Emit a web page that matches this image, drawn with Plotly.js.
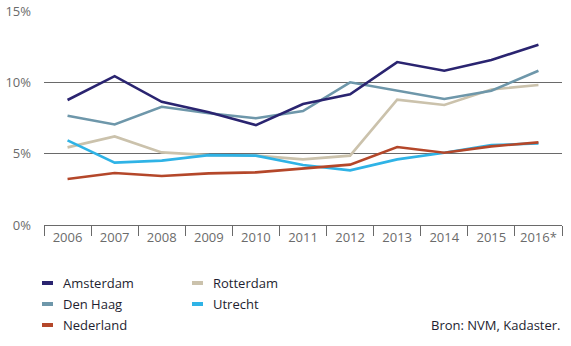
<!DOCTYPE html>
<html>
<head>
<meta charset="utf-8">
<script src="https://cdn.plot.ly/plotly-3.0.1.min.js"></script>
<style>html,body{margin:0;padding:0;background:#fff;}#chart{width:571px;height:346px;}</style>
</head>
<body>
<div id="chart"></div>
<script>
const years = ["2006","2007","2008","2009","2010","2011","2012","2013","2014","2015","2016*"];
const amsterdam = [8.76, 10.43, 8.63, 7.9, 7.0, 8.48, 9.16, 11.42, 10.81, 11.56, 12.64];
const denHaag   = [7.66, 7.05, 8.29, 7.83, 7.48, 7.99, 10.0, 9.41, 8.83, 9.41, 10.81];
const rotterdam = [5.44, 6.21, 5.09, 4.9, 4.86, 4.6, 4.86, 8.78, 8.41, 9.5, 9.81];
const utrecht   = [5.93, 4.37, 4.51, 4.9, 4.86, 4.2, 3.83, 4.6, 5.07, 5.6, 5.72];
const nederland = [3.22, 3.64, 3.43, 3.62, 3.69, 3.97, 4.23, 5.47, 5.07, 5.51, 5.79];
const yTicks = [0, 5, 10, 15];
const yTickText = ["0%", "5%", "10%", "15%"];
const source = "Bron: NVM, Kadaster.";

const series = [
  {name: "Amsterdam", y: amsterdam, color: "#2a2470", col: 0, row: 0},
  {name: "Den Haag",  y: denHaag,   color: "#6e97aa", col: 0, row: 1},
  {name: "Nederland", y: nederland, color: "#b4472a", col: 0, row: 2},
  {name: "Rotterdam", y: rotterdam, color: "#cbc2ac", col: 1, row: 0},
  {name: "Utrecht",   y: utrecht,   color: "#2fb3e6", col: 1, row: 1}
];
// draw order: lighter first so darker lines on top like the reference
const drawOrder = ["Rotterdam", "Utrecht", "Nederland", "Den Haag", "Amsterdam"];

const L = 44, R = 9, T = 11, B = 121, W = 571, H = 346;
const pw = W - L - R, ph = H - T - B;
const px = x => (x - L) / pw;
const py = y => (H - B - y) / ph;

const traces = drawOrder.map(n => {
  const s = series.find(d => d.name === n);
  return {x: years, y: s.y, type: "scatter", mode: "lines", name: s.name,
          line: {color: s.color, width: 2.6}, hoverinfo: "skip"};
});

const shapes = [], annotations = [];
series.forEach(s => {
  const x0 = s.col === 0 ? 41 : 191;
  const yc = 283 + s.row * 21;
  shapes.push({type: "line", xref: "paper", yref: "paper",
    x0: px(x0 + 1), x1: px(x0 + 12), y0: py(yc), y1: py(yc),
    line: {color: s.color, width: 4}, layer: "above"});
  annotations.push({xref: "paper", yref: "paper", x: px(x0 + 20), y: py(yc),
    xanchor: "left", yanchor: "middle", text: s.name, showarrow: false,
    font: {family: "Open Sans, sans-serif", size: 13, color: "#1e1e30"}});
});
annotations.push({xref: "paper", yref: "paper", x: px(563), y: py(325),
  xanchor: "right", yanchor: "middle", text: source, showarrow: false,
  font: {family: "Open Sans, sans-serif", size: 13, color: "#1e1e30"}});

const layout = {
  width: W, height: H,
  margin: {l: L, r: R, t: T, b: B, pad: 0},
  paper_bgcolor: "#fff", plot_bgcolor: "#fff",
  showlegend: false,
  font: {family: "Open Sans, sans-serif", size: 13, color: "#6b6b6b"},
  xaxis: {type: "category", range: [-0.5, 10.5], showgrid: false, zeroline: false,
    showline: true, linecolor: "#6a6a6a", linewidth: 1,
    ticks: "outside", tickson: "boundaries", ticklen: 10, tickcolor: "#6a6a6a", tickwidth: 1,
    tickfont: {size: 13, color: "#6b6b6b"}, fixedrange: true},
  yaxis: {range: [0, 15], tickvals: yTicks, ticktext: yTickText, showgrid: true,
    gridcolor: "#6a6a6a", gridwidth: 1, zeroline: false, showline: false, ticks: "",
    ticklabelstandoff: 12, tickfont: {size: 13, color: "#6b6b6b"}, fixedrange: true},
  shapes: shapes, annotations: annotations
};

Plotly.newPlot("chart", traces, layout, {displayModeBar: false, staticPlot: true});
</script>
</body>
</html>
